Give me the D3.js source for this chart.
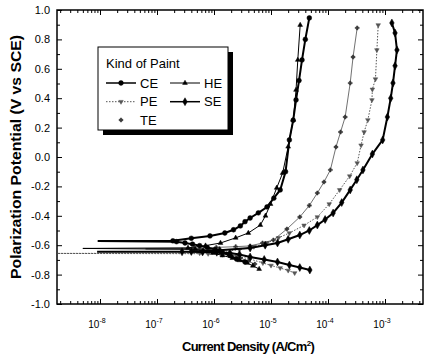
<!DOCTYPE html>
<html><head><meta charset="utf-8">
<script src="https://cdn.jsdelivr.net/npm/d3@7"></script>
<style>
body{margin:0;background:#fff}
svg{display:block}
text{font-family:"Liberation Sans",Arial,Helvetica,sans-serif;fill:#000}
</style>
</head><body>
<svg id="chart" width="425" height="356"></svg>
<script>
// ---------- data (current density A/cm², potential V vs SCE) ----------
const seriesNames = ["CE", "HE", "PE", "SE", "TE"];

const ceCurrent   = [3.5e-6,2.5e-6,1.9e-6,1.4e-6,1.05e-6,7.6e-7,5.6e-7,4.2e-7,3.1e-7,2.2e-7,9.1e-9,1.9e-7,4.0e-7,8.5e-7,1.55e-6,2.2e-6,2.9e-6,3.5e-6,4.3e-6,6.0e-6,8.5e-6,1.12e-5,1.45e-5,1.8e-5,2.1e-5,2.45e-5,2.75e-5,3.1e-5,3.5e-5,4.0e-5,4.7e-5];
const cePotential = [-0.714,-0.695,-0.67,-0.65,-0.63,-0.615,-0.603,-0.593,-0.585,-0.576,-0.572,-0.570,-0.553,-0.537,-0.517,-0.495,-0.469,-0.44,-0.415,-0.38,-0.34,-0.28,-0.224,-0.10,0.116,0.25,0.388,0.52,0.66,0.80,0.946];

const heCurrent   = [6.2e-6,4.8e-6,3.8e-6,2.8e-6,2.1e-6,1.4e-6,9.5e-7,6.6e-7,4.7e-7,5.0e-9,3.5e-7,7.1e-7,1.3e-6,2.4e-6,4.0e-6,6.5e-6,8.0e-6,9.8e-6,1.26e-5,1.6e-5,2.0e-5,2.45e-5,2.75e-5,2.95e-5,3.25e-5];
const hePotential = [-0.762,-0.74,-0.721,-0.703,-0.687,-0.67,-0.653,-0.638,-0.628,-0.622,-0.618,-0.603,-0.585,-0.55,-0.517,-0.463,-0.40,-0.32,-0.21,-0.109,0.07,0.252,0.456,0.66,0.898];

const teCurrent   = [5.2e-6,4.0e-6,2.9e-6,2.0e-6,1.3e-6,8.3e-7,5.6e-7,6.3e-8,4.5e-7,1.1e-6,2.4e-6,4.3e-6,7.1e-6,1.1e-5,1.9e-5,3.2e-5,4.7e-5,6.5e-5,8.5e-5,1.1e-4,1.38e-4,1.66e-4,2.0e-4,2.45e-4,2.75e-4,3.25e-4];
const tePotential = [-0.728,-0.71,-0.687,-0.667,-0.646,-0.634,-0.627,-0.625,-0.622,-0.615,-0.61,-0.605,-0.585,-0.565,-0.49,-0.408,-0.33,-0.245,-0.17,-0.088,0.068,0.17,0.272,0.503,0.68,0.878];

const peCurrent   = [2.6e-5,2.0e-5,1.45e-5,1.0e-5,7.2e-6,4.3e-6,2.5e-6,1.4e-6,7.9e-7,1.25e-9,5.6e-7,1.26e-6,2.8e-6,5.0e-6,8.5e-6,1.35e-5,2.1e-5,3.8e-5,6.5e-5,1.05e-4,1.6e-4,2.4e-4,3.25e-4,3.8e-4,4.3e-4,5.0e-4,5.9e-4,6.0e-4,6.8e-4,7.2e-4,7.6e-4];
const pePotential = [-0.789,-0.772,-0.755,-0.738,-0.721,-0.694,-0.675,-0.664,-0.658,-0.656,-0.654,-0.645,-0.63,-0.61,-0.585,-0.55,-0.517,-0.465,-0.408,-0.32,-0.224,-0.13,-0.041,0.08,0.17,0.252,0.388,0.46,0.53,0.728,0.898];

const seCurrent   = [4.8e-5,3.2e-5,2.1e-5,1.3e-5,7.6e-6,4.3e-6,2.8e-6,1.9e-6,1.12e-6,6.3e-7,2.75e-7,8.9e-9,4.0e-7,1.26e-6,4.3e-6,7.9e-6,1.3e-5,2.0e-5,3.2e-5,4.7e-5,6.5e-5,8.9e-5,1.23e-4,1.74e-4,2.45e-4,3.2e-4,4.1e-4,6.0e-4,9.1e-4,1.1e-3,1.26e-3,1.38e-3,1.5e-3,1.62e-3,1.5e-3,1.32e-3];
const sePotential = [-0.769,-0.752,-0.735,-0.714,-0.697,-0.68,-0.663,-0.653,-0.648,-0.646,-0.645,-0.645,-0.643,-0.635,-0.619,-0.60,-0.585,-0.56,-0.531,-0.50,-0.463,-0.425,-0.381,-0.31,-0.224,-0.155,-0.088,0.02,0.116,0.272,0.40,0.503,0.62,0.728,0.844,0.912];

const yTickValues = [-1.0,-0.8,-0.6,-0.4,-0.2,0.0,0.2,0.4,0.6,0.8,1.0];
const yMinorValues = [-0.9,-0.7,-0.5,-0.3,-0.1,0.1,0.3,0.5,0.7,0.9];
const xTickValues = [1e-8,1e-7,1e-6,1e-5,1e-4,1e-3];
const xTickExponents = ["-8","-7","-6","-5","-4","-3"];

const yTitle = "Polarization Potential (V vs SCE)";
const xTitle = "Current Density (A/Cm";
const legendTitle = "Kind of Paint";

// ---------- layout ----------
const svg = d3.select("#chart");
const L = 57, R = 423, T = 10, B = 304;
const x = d3.scaleLog().domain([1.76e-9, 4.64e-3]).range([L, R]);
const y = d3.scaleLinear().domain([-1, 1]).range([B, T]);

const xMinor = [];
for (let e = -9; e <= -3; e++) for (let k = 2; k <= 9; k++) {
  const v = k * Math.pow(10, e);
  if (v > x.domain()[0] && v < x.domain()[1]) xMinor.push(v);
}

function styleAxis(g) {
  g.select(".domain").remove();
  g.selectAll(".tick line").attr("stroke", "#000").attr("stroke-width", 1);
}

svg.append("g").attr("transform", `translate(0,${B})`)
  .call(d3.axisBottom(x).tickValues(xTickValues).tickSize(-5).tickFormat(""))
  .call(styleAxis);
svg.append("g").attr("transform", `translate(0,${B})`)
  .call(d3.axisBottom(x).tickValues(xMinor).tickSize(-3).tickFormat(""))
  .call(styleAxis);
svg.append("g").attr("transform", `translate(0,${T})`)
  .call(d3.axisTop(x).tickValues(xTickValues).tickSize(-5).tickFormat(""))
  .call(styleAxis);
svg.append("g").attr("transform", `translate(0,${T})`)
  .call(d3.axisTop(x).tickValues(xMinor).tickSize(-3).tickFormat(""))
  .call(styleAxis);
const gl = svg.append("g").attr("transform", `translate(${L},0)`)
  .call(d3.axisLeft(y).tickValues(yTickValues).tickSize(-5).tickPadding(7).tickFormat(d => d.toFixed(1)))
  .call(styleAxis);
gl.selectAll("text").attr("font-size", 11).attr("font-family", "Liberation Sans, Arial, sans-serif");
svg.append("g").attr("transform", `translate(${L},0)`)
  .call(d3.axisLeft(y).tickValues(yMinorValues).tickSize(-3).tickFormat(""))
  .call(styleAxis);
svg.append("g").attr("transform", `translate(${R},0)`)
  .call(d3.axisRight(y).tickValues(yTickValues).tickSize(-5).tickFormat(""))
  .call(styleAxis);
svg.append("g").attr("transform", `translate(${R},0)`)
  .call(d3.axisRight(y).tickValues(yMinorValues).tickSize(-3).tickFormat(""))
  .call(styleAxis);

const xl = svg.append("g").selectAll("text").data(xTickValues).join("text")
  .attr("x", d => x(d) - 3).attr("y", 328)
  .attr("text-anchor", "middle").attr("font-size", 10);
xl.append("tspan").text("10");
xl.append("tspan").attr("dy", -5).attr("font-size", 7).text((d, i) => xTickExponents[i]);

svg.append("rect").attr("x", L).attr("y", T).attr("width", R - L).attr("height", B - T)
  .attr("fill", "none").attr("stroke", "#000").attr("stroke-width", 1.5);

svg.append("text").attr("transform", `translate(21,${(T + B) / 2}) rotate(-90)`)
  .attr("text-anchor", "middle").attr("font-weight", "bold").attr("font-size", 14.5)
  .attr("textLength", 244).attr("lengthAdjust", "spacingAndGlyphs").text(yTitle);
const xt = svg.append("text").attr("x", 248).attr("y", 351)
  .attr("text-anchor", "middle").attr("font-weight", "bold").attr("font-size", 13)
  .attr("letter-spacing", -0.7);
xt.append("tspan").text(xTitle);
xt.append("tspan").attr("dy", -5).attr("font-size", 8).text("2");
xt.append("tspan").attr("dy", 5).text(")");

// ---------- series ----------
svg.append("clipPath").attr("id", "clip").append("rect")
  .attr("x", L).attr("y", T).attr("width", R - L).attr("height", B - T);

const styles = {
  CE: {stroke: "#000", width: 2.0, dash: null, marker: d3.symbolCircle, size: 18, fill: "#000"},
  HE: {stroke: "#000", width: 1.0, dash: null, marker: d3.symbolTriangle, size: 10, fill: "#000"},
  PE: {stroke: "#555", width: 1.0, dash: "1.5,1.5", marker: d3.symbolTriangle, size: 9, fill: "#555", rot: 180},
  SE: {stroke: "#000", width: 2.0, dash: null, marker: d3.symbolDiamond, size: 18, fill: "#000"},
  TE: {stroke: "#333", width: 0.7, dash: null, marker: d3.symbolCross, size: 9, fill: "#333"}
};
const dataMap = {
  CE: [ceCurrent, cePotential], HE: [heCurrent, hePotential], PE: [peCurrent, pePotential],
  SE: [seCurrent, sePotential], TE: [teCurrent, tePotential]
};
const line = d3.line().x(d => x(d[0])).y(d => y(d[1]));
const plot = svg.append("g").attr("clip-path", "url(#clip)");
["PE", "TE", "HE", "SE", "CE"].forEach(name => {
  const [cur, pot] = dataMap[name];
  const pts = cur.map((c, i) => [c, pot[i]]);
  const s = styles[name];
  plot.append("path").datum(pts).attr("d", line).attr("fill", "none")
    .attr("stroke", s.stroke).attr("stroke-width", s.width)
    .attr("stroke-dasharray", s.dash);
  // markers (the far-left excursion at the corrosion potential is drawn as line only)
  plot.append("g").selectAll("path").data(pts.filter(d => d[0] > 1.5e-7)).join("path")
    .attr("d", d3.symbol().type(s.marker).size(s.size))
    .attr("transform", d => `translate(${x(d[0])},${y(d[1])}) rotate(${s.rot || 0})`)
    .attr("fill", s.fill).attr("stroke", s.stroke).attr("stroke-width", 0.5);
});

// ---------- legend ----------
const lg = svg.append("g");
lg.append("rect").attr("x", 103).attr("y", 52).attr("width", 130).attr("height", 83).attr("fill", "#000");
lg.append("rect").attr("x", 98).attr("y", 47).attr("width", 130).attr("height", 83)
  .attr("fill", "#fff").attr("stroke", "#000").attr("stroke-width", 1);
lg.append("text").attr("x", 106).attr("y", 68).attr("font-size", 13).text(legendTitle);
const legendPos = {
  CE: [106, 83, true], HE: [170, 83, true], PE: [106, 101.7, true], SE: [170, 101.7, true], TE: [106, 120, false]
};
seriesNames.forEach(name => {
  const [lx, ly, showLine] = legendPos[name];
  const s = styles[name];
  if (showLine) {
    lg.append("line").attr("x1", lx).attr("x2", lx + 30).attr("y1", ly).attr("y2", ly)
      .attr("stroke", s.stroke).attr("stroke-width", s.width > 1.5 ? 1.5 : s.width)
      .attr("stroke-dasharray", s.dash);
  }
  lg.append("path").attr("d", d3.symbol().type(s.marker).size(s.size))
    .attr("transform", `translate(${lx + 15},${ly}) rotate(${s.rot || 0})`)
    .attr("fill", s.fill).attr("stroke", s.stroke).attr("stroke-width", 0.5);
  lg.append("text").attr("x", lx + 34).attr("y", ly + 4.6).attr("font-size", 13).text(name);
});
</script>
</body></html>
